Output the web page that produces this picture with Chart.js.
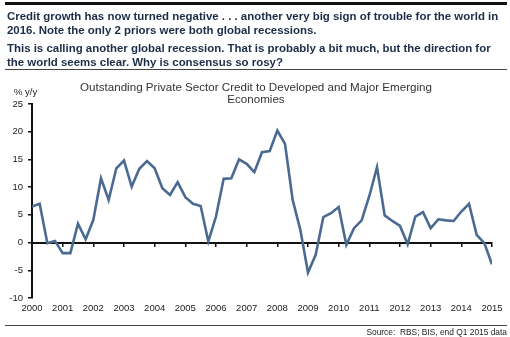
<!DOCTYPE html>
<html>
<head>
<meta charset="utf-8">
<script src="https://cdn.jsdelivr.net/npm/chart.js@4/dist/chart.umd.min.js"></script>
<style>
html,body{margin:0;padding:0;background:#fff;width:510px;height:337px;overflow:hidden;font-family:"Liberation Sans",Arial,sans-serif;}
#wrap{position:relative;width:510px;height:337px;}
canvas{position:absolute;left:0;top:0;}
.rule{position:absolute;left:5px;width:502px;}
#topRule{top:2px;height:3px;background:#111;}
#hdrRule{top:69px;height:1px;background:#444;}
#botRule{top:325px;height:1px;background:#444;}
.hdr{position:absolute;left:7px;color:#1c2d48;font-weight:bold;font-size:11.45px;line-height:14px;white-space:nowrap;}
#h1{top:9px;}
#h2{top:41px;}
#ctitle{position:absolute;left:0;width:512px;top:81px;text-align:center;color:#333;font-size:11.6px;line-height:12px;}
#yunit{position:absolute;left:14px;top:86px;color:#222;font-size:9.5px;}
#source{position:absolute;right:3px;top:327px;color:#222;font-size:8.4px;line-height:10px;white-space:nowrap;}
</style>
</head>
<body>
<div id="wrap">
<canvas id="c" width="510" height="337"></canvas>
<div class="rule" id="topRule"></div>
<div class="hdr" id="h1">Credit growth has now turned negative . . . another very big sign of trouble for the world in<br>2016. Note the only 2 priors were both global recessions.</div>
<div class="hdr" id="h2">This is calling another global recession. That is probably a bit much, but the direction for<br>the world seems clear. Why is consensus so rosy?</div>
<div class="rule" id="hdrRule"></div>
<div id="ctitle">Outstanding Private Sector Credit to Developed and Major Emerging<br>Economies</div>
<div id="yunit">% y/y</div>
<div class="rule" id="botRule"></div>
<div id="source">Source:&nbsp; RBS; BIS, end Q1 2015 data</div>
</div>
<script>
// Quarterly data, 2000 Q1 .. 2015 Q1 (% y/y)
const startYear = 2000;
const quartersPerYear = 4;
const creditGrowth = [
  6.5, 7.0, -0.1, 0.3,   -1.9, -1.9, 3.4, 0.6,
  4.1, 11.6, 7.7, 13.4,  14.8, 10.1, 13.3, 14.7,
  13.4, 9.8, 8.6, 10.9,  8.2, 7.0, 6.6, 0.2,
  4.7, 11.5, 11.6, 15.0, 14.2, 12.7, 16.3, 16.5,
  20.2, 17.8, 7.7, 2.3,  -5.4, -2.2, 4.6, 5.3,
  6.4, -0.4, 2.6, 4.0,   8.4, 13.6, 4.9, 3.9,
  3.0, -0.3, 4.7, 5.5,   2.6, 4.2, 4.0, 3.9,
  5.6, 7.0, 1.4, -0.1,   -3.9
];
const yearLabels = ['2000','2001','2002','2003','2004','2005','2006','2007','2008','2009','2010','2011','2012','2013','2014','2015'];
const yTicks = [-10, -5, 0, 5, 10, 15, 20, 25];

const points = creditGrowth.map((v, i) => ({x: i, y: v}));
const xMax = (yearLabels.length - 1) * quartersPerYear;
const tickFont = {family: '"Liberation Sans", Arial, sans-serif', size: 9.5};

new Chart(document.getElementById('c'), {
  type: 'line',
  data: {
    datasets: [{
      data: points,
      borderColor: '#4a6a92',
      borderWidth: 2.6,
      pointRadius: 0,
      tension: 0,
      fill: false
    }]
  },
  options: {
    responsive: false,
    animation: false,
    devicePixelRatio: 1,
    layout: {padding: {top: 104, left: 0, right: 18, bottom: 19}},
    plugins: {legend: {display: false}, tooltip: {enabled: false}, title: {display: false}},
    scales: {
      x: {
        type: 'linear',
        min: 0, max: xMax,
        position: 'bottom',
        grid: {display: false, drawTicks: false},
        border: {display: false},
        ticks: {
          stepSize: quartersPerYear,
          autoSkip: false,
          maxRotation: 0,
          padding: 5,
          color: '#222',
          font: tickFont,
          callback: (v) => yearLabels[Math.round(v / quartersPerYear)]
        },
        afterFit: (s) => { s.height = 20; }
      },
      xZero: {
        type: 'linear',
        min: 0, max: xMax,
        position: {y: 0},
        grid: {drawOnChartArea: false, drawTicks: true, tickLength: 3, color: '#111', lineWidth: 1.5},
        border: {display: true, color: '#111', width: 2},
        ticks: {display: false, stepSize: quartersPerYear}
      },
      y: {
        type: 'linear',
        min: yTicks[0], max: yTicks[yTicks.length - 1],
        position: 'left',
        grid: {drawOnChartArea: false, drawTicks: true, tickLength: 4, color: '#111', lineWidth: 1.5},
        border: {display: true, color: '#111', width: 2},
        ticks: {stepSize: 5, padding: 5, color: '#222', font: tickFont},
        afterFit: (s) => { s.width = 32; }
      }
    }
  }
});
</script>
</body>
</html>
